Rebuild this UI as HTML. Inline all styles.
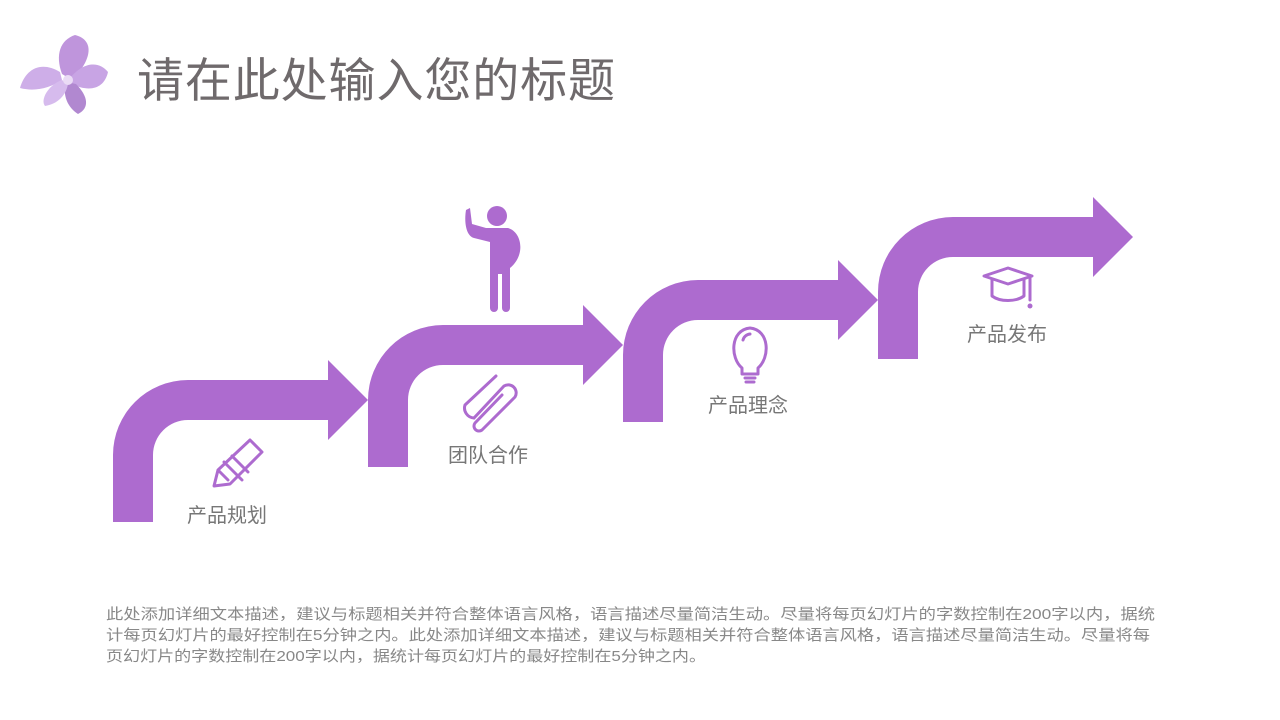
<!DOCTYPE html>
<html><head><meta charset="utf-8"><style>
html,body{margin:0;padding:0;background:#fff;}
body{width:1280px;height:720px;overflow:hidden;position:relative;font-family:"Liberation Sans","Noto Sans CJK SC",sans-serif;}
</style></head><body>
<svg width="1280" height="720" viewBox="0 0 1280 720" xmlns="http://www.w3.org/2000/svg" style="position:absolute;left:0;top:0">
<!-- flower -->
<g opacity="0.9">
<path d="M60 72 C40 60 25 70 20 88 C35 92 50 88 62 80Z" fill="#c9a6e6"/>
<path d="M62 74 C55 55 60 40 75 35 C95 40 92 60 72 80Z" fill="#b98ad9"/>
<path d="M70 78 C85 60 100 62 108 72 C104 90 88 92 72 84Z" fill="#c39be2"/>
<path d="M66 82 C62 95 68 108 78 114 C90 108 88 96 76 84Z" fill="#a97ccc"/>
<path d="M62 80 C48 85 40 100 45 106 C58 104 66 95 68 84Z" fill="#d2b4ec"/>
<circle cx="68" cy="80" r="5" fill="#e8d8f4"/>
</g>
<text x="137" y="97" font-size="47" fill="#6f6a6c" font-family="Liberation Sans,Noto Sans CJK SC,sans-serif" textLength="478">请在此处输入您的标题</text>
<g fill="#ad6bcf">
<path d="M113 522 V455 A75 75 0 0 1 188 380 H328 V360 L368 400 L328 440 V420 H188 A35 35 0 0 0 153 455 V522 Z"/>
<path d="M368 467 V400 A75 75 0 0 1 443 325 H583 V305 L623 345 L583 385 V365 H443 A35 35 0 0 0 408 400 V467 Z"/>
<path d="M623 422 V355 A75 75 0 0 1 698 280 H838 V260 L878 300 L838 340 V320 H698 A35 35 0 0 0 663 355 V422 Z"/>
<path d="M878 359 V292 A75 75 0 0 1 953 217 H1093 V197 L1133 237 L1093 277 V257 H953 A35 35 0 0 0 918 292 V359 Z"/>
<!-- person -->
<circle cx="497" cy="216" r="10"/>
<path d="M466 210 L470 208 L472 224 L486 228 H508 C522 232 526 255 510 268 V308 A4 4 0 0 1 502 308 V274 H498 V308 A4 4 0 0 1 490 308 V242 L474 238 C466 236 464 222 466 210Z"/>
</g>
<g fill="none" stroke="#ad6bcf" stroke-width="3" stroke-linecap="round" stroke-linejoin="round">
<!-- pencil -->
<path d="M250 440 L262 452 L230 484 L214 486 L218 470 Z M224 462 L242 480 M232 456 L248 472 M218 470 L228 480"/>
<!-- clip -->
<path d="M474 418 L504 386 A8 8 0 0 1 515 397 L482 430 A5 5 0 0 1 475 423 L502 395 M474 418 A10 10 0 0 1 465 405 L496 376"/>
<!-- bulb -->
<path d="M742 368 C730 358 730 330 750 328 C770 330 770 358 758 368 V374 H742 Z M745 378 H755 M746 382 H754 M743 340 A8 8 0 0 1 750 334"/>
<!-- cap -->
<path d="M984 276 L1008 268 L1032 276 L1008 284 Z M992 280 V296 C1000 302 1016 302 1024 296 V280 M1030 278 V300"/>
</g>
<circle cx="1030" cy="306" r="2.5" fill="#ad6bcf"/>
<g font-size="20" fill="#777" text-anchor="middle" font-family="Liberation Sans,Noto Sans CJK SC,sans-serif">
<text x="227" y="522">产品规划</text>
<text x="488" y="462">团队合作</text>
<text x="748" y="412">产品理念</text>
<text x="1007" y="341">产品发布</text>
</g>
<g font-size="15" fill="#888" font-family="Liberation Sans,Noto Sans CJK SC,sans-serif">
<text x="106" y="619" textLength="1049" lengthAdjust="spacingAndGlyphs">此处添加详细文本描述，建议与标题相关并符合整体语言风格，语言描述尽量简洁生动。尽量将每页幻灯片的字数控制在200字以内，据统</text>
<text x="106" y="640" textLength="1044" lengthAdjust="spacingAndGlyphs">计每页幻灯片的最好控制在5分钟之内。此处添加详细文本描述，建议与标题相关并符合整体语言风格，语言描述尽量简洁生动。尽量将每</text>
<text x="106" y="661" textLength="600" lengthAdjust="spacingAndGlyphs">页幻灯片的字数控制在200字以内，据统计每页幻灯片的最好控制在5分钟之内。</text>
</g>
</svg>
</body></html>
